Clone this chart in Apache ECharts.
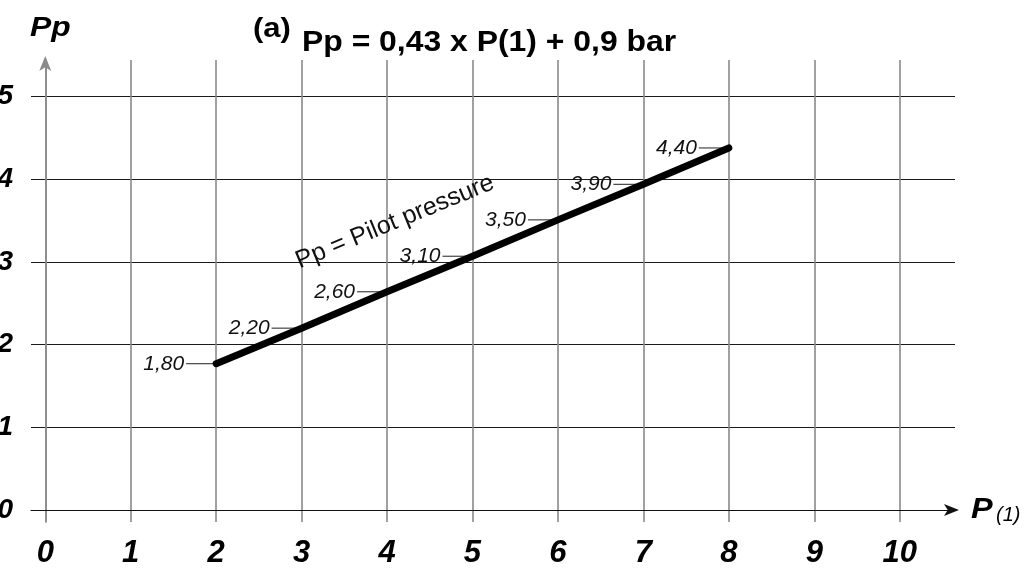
<!DOCTYPE html>
<html>
<head>
<meta charset="utf-8">
<script src="https://cdn.jsdelivr.net/npm/echarts@6/dist/echarts.min.js"></script>
<style>
  html, body { margin: 0; padding: 0; background: #fff; }
  #chart { width: 1033px; height: 575px; }
</style>
</head>
<body>
<div id="chart"></div>
<script>
// ---- data ----
const xTicks = [0, 1, 2, 3, 4, 5, 6, 7, 8, 9, 10];
const yTicks = [0, 1, 2, 3, 4, 5];
const pressureP1 = [2, 3, 4, 5, 6, 7, 8];
const pilotPp = [1.77, 2.20, 2.64, 3.07, 3.51, 3.94, 4.38];
const pointLabels = ['1,80', '2,20', '2,60', '3,10', '3,50', '3,90', '4,40'];
const titleTag = '(a)';
const titleText = 'Pp = 0,43 x P(1) + 0,9 bar';
const curveName = 'Pp = Pilot pressure';

const FONT = 'Liberation Sans, Arial, sans-serif';
const chart = echarts.init(document.getElementById('chart'), null, { renderer: 'canvas' });

const lineData = pressureP1.map((x, i) => [x, pilotPp[i]]);

const option = {
  backgroundColor: '#ffffff',
  animation: false,
  grid: { left: 31, right: 78, top: 60, bottom: 53, containLabel: false, outerBoundsMode: 'none' },
  xAxis: {
    type: 'value',
    min: -0.167,
    max: 10.647,
    axisLine: {
      show: true, onZero: true,
      lineStyle: { color: '#111', width: 1.2 },
      symbol: ['none', 'arrow'],
      symbolSize: [9, 15],
      symbolOffset: [0, 4]
    },
    axisTick: { show: false, customValues: xTicks },
    axisLabel: {
      customValues: xTicks,
      margin: 16,
      fontFamily: FONT, fontSize: 31, fontWeight: 'bold', fontStyle: 'italic',
      color: '#000',
      formatter: v => String(v)
    },
    splitLine: { show: true, lineStyle: { color: '#8a8a8a', width: 1.6 } }
  },
  yAxis: {
    type: 'value',
    min: -0.145,
    max: 5.444,
    axisLine: {
      show: true, onZero: true,
      lineStyle: { color: '#8a8a8a', width: 1.6 },
      symbol: ['none', 'arrow'],
      symbolSize: [9, 15],
      symbolOffset: [0, 4]
    },
    axisTick: { show: false, customValues: yTicks },
    axisLabel: {
      show: true,
      customValues: yTicks,
      margin: 18,
      fontFamily: FONT, fontSize: 28, fontWeight: 'bold', fontStyle: 'italic',
      color: '#000',
      formatter: v => String(v)
    },
    splitLine: { show: true, lineStyle: { color: '#1a1a1a', width: 1 } }
  },
  graphic: [
    {
      type: 'text', x: 253, y: 30, scaleX: 1.15, z: 10,
      style: { text: titleTag, fontFamily: FONT, fontSize: 27, fontWeight: 'bold',
               fill: '#000', align: 'left', verticalAlign: 'middle' }
    },
    {
      type: 'text', x: 302, y: 43, scaleX: 1.1, z: 10,
      style: { text: titleText, fontFamily: FONT, fontSize: 29, fontWeight: 'bold',
               fill: '#000', align: 'left', verticalAlign: 'middle' }
    },
    {
      type: 'text', x: 30, y: 29, scaleX: 1.18, z: 10,
      style: { text: 'Pp', fontFamily: FONT, fontSize: 27, fontWeight: 'bold', fontStyle: 'italic',
               fill: '#000', align: 'left', verticalAlign: 'middle' }
    },
    {
      type: 'text', x: 971, y: 510, scaleX: 1.12, z: 10,
      style: { text: 'P', fontFamily: FONT, fontSize: 29, fontWeight: 'bold', fontStyle: 'italic',
               fill: '#000', align: 'left', verticalAlign: 'middle' }
    },
    {
      type: 'text', x: 996, y: 515, z: 10,
      style: { text: '(1)', fontFamily: FONT, fontSize: 20, fontStyle: 'italic',
               fill: '#000', align: 'left', verticalAlign: 'middle' }
    },
    {
      type: 'text', x: 395, y: 222, rotation: 22.3 * Math.PI / 180, z: 10,
      style: { text: curveName, fontFamily: FONT, fontSize: 25,
               fill: '#111', align: 'center', verticalAlign: 'middle' }
    }
  ],
  series: [
    {
      type: 'custom',
      name: 'labels',
      z: 3,
      data: lineData,
      renderItem: function (params, api) {
        const p = api.coord([api.value(0), api.value(1)]);
        return {
          type: 'group',
          children: [
            {
              type: 'line',
              shape: { x1: p[0] - 30, y1: p[1], x2: p[0], y2: p[1] },
              style: { stroke: '#333', lineWidth: 1.1 }
            },
            {
              type: 'text',
              x: p[0] - 32, y: p[1],
              style: {
                text: pointLabels[params.dataIndex],
                fontFamily: FONT, fontSize: 21, fontStyle: 'italic',
                fill: '#111', align: 'right', verticalAlign: 'middle'
              }
            }
          ]
        };
      }
    },
    {
      type: 'line',
      name: 'Pp',
      z: 5,
      data: lineData,
      symbol: 'none',
      lineStyle: { color: '#000', width: 7, cap: 'round' }
    }
  ]
};
chart.setOption(option);
</script>
</body>
</html>
